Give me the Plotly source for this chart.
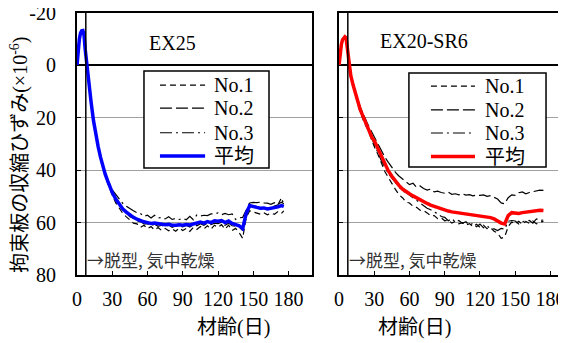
import plotly.graph_objects as go

# ---------------- data ----------------
DAYS = [0, 1, 2, 3, 4, 5, 6, 7, 8, 9, 10,
        12, 14, 16, 18, 20, 22, 24, 26, 28,
        30, 33, 36, 39, 42, 45, 48, 51, 54, 57,
        60, 63, 66, 69, 72, 75, 78, 81, 84, 87,
        90, 93, 96, 99, 102, 105, 108, 111, 114, 117,
        120, 123, 126, 129, 132, 135, 138, 141, 144, 147,
        150, 153, 156, 159, 162, 165, 168, 171, 174, 176]

DEMOLD_DAY = 7.5

# EX25
EX25_NO1 = [0, -6.5, -10.5, -12.8, -13.6, -13.5, -11.5, -5.5, -1, 3.5, 7.5,
            14.5, 21.5, 27, 31.5, 35.5, 39, 42, 44.8, 47.5,
            49.5, 52.5, 54.5, 56.5, 57.8, 59, 60.2, 60.5, 61.8, 61,
            62.3, 61.5, 62.8, 61.9, 63, 62.2, 63.1, 62.4, 63.3, 62.1,
            63, 62.2, 63.4, 61.8, 62.6, 61.5, 62.4, 61.2, 62.5, 61,
            61.8, 60.8, 62.5, 61, 63, 62.2, 63.8, 66, 58, 55.5,
            56, 56.3, 56.8, 56.2, 57, 56.4, 56.8, 55.8, 56.5, 55.5]
EX25_NO2 = [0, -5.8, -9.8, -12, -13, -13.2, -11.3, -6, -1.8, 2.8, 6.8,
            13.8, 20.8, 26.3, 30.8, 34.8, 38.3, 41.3, 43.8, 46.3,
            48.5, 51.3, 53.5, 55.2, 56.4, 57.8, 58.3, 59.4, 59.6, 60.5,
            60.5, 61.2, 60.6, 61.4, 61, 61.6, 60.9, 61.8, 61.3, 61.5,
            61.6, 61, 61.7, 60.8, 61.2, 60.4, 61, 60.3, 60.8, 60.2,
            60.4, 59.8, 61, 60.2, 61.2, 61.4, 61.6, 63, 56, 52.5,
            52.3, 52.4, 52.2, 52.5, 52.6, 53, 52.4, 53, 52.2, 52.8]
EX25_NO3 = [0, -5.7, -9.7, -12.1, -13, -13.2, -11.7, -6.5, -1.7, 2.7, 6.7,
            13.7, 20.7, 26.2, 30.7, 34.7, 38.2, 41.2, 43.4, 45.7,
            47.5, 49.2, 51, 52.7, 53.8, 54.8, 55.5, 56.2, 56.5, 57.6,
            57.2, 58.2, 57.2, 58.2, 58.1, 58.6, 57.8, 58.8, 58.4, 58.8,
            58.4, 58.9, 57.6, 58.9, 57.1, 57.5, 57.2, 57.3, 56.7, 56.7,
            56.3, 57, 56.5, 57, 56.7, 58.8, 58.2, 58, 55.5, 52.5,
            53.7, 53.9, 54.5, 54.5, 54.8, 54.4, 53.7, 53.2, 50.5, 53.1]
EX25_AVG = [0, -6, -10, -12.3, -13.2, -13.3, -11.5, -6, -1.5, 3, 7,
            14, 21, 26.5, 31, 35, 38.5, 41.5, 44, 46.5,
            48.5, 51, 53, 54.8, 56, 57.2, 58, 58.7, 59.3, 59.7,
            60, 60.3, 60.2, 60.5, 60.7, 60.8, 60.6, 61, 61, 60.8,
            61, 60.7, 60.9, 60.5, 60.3, 59.8, 60.2, 59.6, 60, 59.3,
            59.5, 59.2, 60, 59.4, 60.3, 60.8, 61.2, 62.3, 56.5, 53.5,
            54, 54.2, 54.5, 54.4, 54.8, 54.6, 54.3, 54, 53.5, 53.8]

# EX20-SR6
SR6_NO1 = [0, -4.8, -7.8, -9.6, -10.5, -10.8, -10.6, -7.5, -2, 1.5, 4,
           8, 11.7, 14.7, 17.7, 20, 22.5, 24, 26.5, 29,
           31, 33.8, 37.3, 40.5, 42.8, 45.2, 47.3, 49.3, 50.5, 52.2,
           52.5, 53.8, 54.2, 55.3, 55.4, 56.3, 57.4, 57.3, 58.5, 58.2,
           59.3, 59, 60.2, 59.5, 60.5, 60, 61, 60.4, 61.5, 60.6,
           61.8, 61, 62.3, 62, 63.3, 64, 66, 65.5, 61.5, 59.8,
           60.5, 59.5, 60.7, 59.6, 60.3, 59.4, 60.5, 59.8, 59.5, None]
SR6_NO2 = [0, -5.2, -8.3, -10, -10.8, -11, -10.4, -6.5, -1, 1.5, 3.5,
           7, 10.3, 13.2, 15.8, 18, 20, 22, 23.8, 25.6,
           27.3, 30, 32.6, 35, 37, 39, 40.8, 42.2, 43.4, 44.5,
           45.5, 45, 46.5, 46, 47, 47.6, 47.2, 48.3, 48, 48.5,
           48.8, 48.4, 49.2, 49, 49.4, 49, 49.5, 49.3, 49.8, 49.5,
           49.6, 49.4, 50, 49.7, 50.2, 51, 52.5, 52.8, 50.5, 49.4,
           49.6, 48.6, 48.3, 49, 48.5, 48.2, 47.8, 47.6, 47.7, None]
SR6_NO3 = [0, -5, -7.9, -9.8, -10.5, -10.9, -10.5, -7, -1.5, 1.5, 3.9,
           7.5, 11, 14.1, 17, 19, 21.5, 23.6, 25.8, 28,
           30.2, 33, 36.3, 38.8, 41.3, 43, 44.8, 46.2, 48, 48.5,
           49.5, 50.7, 51.5, 52.6, 53.7, 54.5, 55.1, 56, 56.5, 57.7,
           58, 59.3, 58.5, 59.8, 59.2, 60.3, 59.7, 61, 60.2, 61.6,
           60.6, 62, 61.2, 62.5, 62.4, 63, 62.2, 62.5, 59.5, 59.2,
           59.4, 60.5, 59.6, 59.5, 59.2, 60.2, 58.6, 59.2, 59, None]
SR6_AVG = [0, -5, -8, -9.8, -10.6, -10.9, -10.5, -7, -1.5, 1.5, 3.8,
           7.5, 11, 14, 16.8, 19, 21.2, 23.3, 25.3, 27.5,
           28.7, 31.8, 34.8, 37.8, 40.3, 42.3, 44.2, 45.8, 47.2, 48.3,
           49, 49.8, 50.6, 51.3, 52, 52.7, 53.3, 53.8, 54.3, 54.8,
           55.2, 55.6, 55.9, 56.1, 56.3, 56.4, 56.7, 56.9, 57, 57.2,
           57.3, 57.5, 57.8, 58.1, 58.6, 59.3, 60.2, 60.5, 57.3, 56.2,
           56.3, 56.5, 56.2, 56, 55.8, 55.9, 55.6, 55.3, 55.4, None]

SERIES_NAMES = ["No.1", "No.2", "No.3", "平均"]
PANEL_TITLES = ["EX25", "EX20-SR6"]
X_TICKS = [0, 30, 60, 90, 120, 150, 180]
Y_TICKS = [-20, 0, 20, 40, 60, 80]
Y_TICK_LABELS = ["-20", "0", "20", "40", "60", "80"]
X_TITLE = "材齢(日)"
Y_TITLE = "拘束板の収縮ひずみ(×10<sup>-6</sup>)"
NOTE = "→脱型, 気中乾燥"

# ---------------- styling ----------------
SERIF = "Liberation Serif, Noto Sans CJK JP, serif"
DASHES = ["6px,4px", "12px,4px", "12px,4px,2px,4px"]
AVG_COLORS = ["#0000ff", "#ff0000"]
LINE_W = [1.2, 1.2, 1.2, 3.5]

fig = go.Figure()

panels = [
    ([EX25_NO1, EX25_NO2, EX25_NO3], EX25_AVG, "x", "y"),
    ([SR6_NO1, SR6_NO2, SR6_NO3], SR6_AVG, "x2", "y2"),
]
for pi, (singles, avg, xa, ya) in enumerate(panels):
    for si, vals in enumerate(singles):
        fig.add_trace(go.Scatter(
            x=DAYS, y=vals, mode="lines", name=SERIES_NAMES[si],
            line=dict(color="black", width=LINE_W[si], dash=DASHES[si]),
            xaxis=xa, yaxis=ya, showlegend=False))
    fig.add_trace(go.Scatter(
        x=DAYS, y=avg, mode="lines", name=SERIES_NAMES[3],
        line=dict(color=AVG_COLORS[pi], width=LINE_W[3]),
        xaxis=xa, yaxis=ya, showlegend=False))

axis_common = dict(
    ticks="inside", ticklen=4, tickwidth=1, tickcolor="black",
    showline=True, linecolor="black", linewidth=2,
    tickfont=dict(family=SERIF, size=20, color="black"),
    automargin=False, ticklabeloverflow="allow",
)

# The page body adds an 8px offset; the figure is sized to fill the rest.
fig.update_layout(
    template="none",
    width=558, height=335,
    margin=dict(l=69, r=0, t=5, b=68, pad=0),
    paper_bgcolor="white", plot_bgcolor="white",
    showlegend=False,
    xaxis=dict(domain=[0, 0.4806], range=[0, 200], tickvals=X_TICKS,
               mirror=True, showgrid=False, zeroline=False, anchor="y",
               ticklabelstandoff=5, **axis_common),
    xaxis2=dict(domain=[0.5358, 1], range=[0, 193.2], tickvals=X_TICKS,
                mirror=True, showgrid=False, zeroline=False, anchor="y2",
                ticklabelstandoff=5, **axis_common),
    yaxis=dict(range=[80, -20], tickvals=Y_TICKS, ticktext=Y_TICK_LABELS,
               mirror=True, anchor="x",
               showgrid=True, gridcolor="#a0a0a0", gridwidth=1,
               zeroline=True, zerolinecolor="black", zerolinewidth=1.5,
               ticklabelstandoff=15, **axis_common),
    yaxis2=dict(range=[80, -20], tickvals=Y_TICKS, mirror=False, anchor="x2",
                showticklabels=False,
                showgrid=True, gridcolor="#a0a0a0", gridwidth=1,
                zeroline=True, zerolinecolor="black", zerolinewidth=1.5,
                **axis_common),
)

# demolding lines
for xa, ya in [("x", "y"), ("x2", "y2")]:
    fig.add_shape(type="line", xref=xa, yref=ya + " domain",
                  x0=DEMOLD_DAY, x1=DEMOLD_DAY, y0=0, y1=1,
                  line=dict(color="black", width=1.5))

# panel titles
fig.add_annotation(text=PANEL_TITLES[0], xref="x domain", yref="y domain",
                   x=0.297, y=0.935, showarrow=False,
                   font=dict(family=SERIF, size=20, color="black"))
fig.add_annotation(text=PANEL_TITLES[1], xref="x2 domain", yref="y2 domain",
                   x=0.374, y=0.941, showarrow=False,
                   font=dict(family=SERIF, size=20, color="black"))

# legends (drawn as boxes inside each panel)
legend_layout = [
    ("x", "y", (0.285, 0.817, 0.408, 0.779), 0.353, 0.545, 0.575,
     [0.725, 0.637, 0.543, 0.454]),
    ("x2", "y2", (0.308, 0.912, 0.412, 0.771), 0.405, 0.599, 0.635,
     [0.721, 0.630, 0.542, 0.452]),
]
for pi, (xa, ya, box, lx0, lx1, tx, ys) in enumerate(legend_layout):
    fig.add_shape(type="rect", xref=xa + " domain", yref=ya + " domain",
                  x0=box[0], x1=box[1], y0=box[2], y1=box[3],
                  line=dict(color="black", width=1.5), fillcolor="white",
                  layer="above")
    for si, name in enumerate(SERIES_NAMES):
        color = "black" if si < 3 else AVG_COLORS[pi]
        dash = DASHES[si] if si < 3 else "solid"
        fig.add_shape(type="line", xref=xa + " domain", yref=ya + " domain",
                      x0=lx0, x1=lx1, y0=ys[si], y1=ys[si],
                      line=dict(color=color, width=LINE_W[si], dash=dash),
                      layer="above")
        fig.add_annotation(text=name, xref=xa + " domain", yref=ya + " domain",
                           x=tx, y=ys[si], xanchor="left", yanchor="middle",
                           showarrow=False,
                           font=dict(family=SERIF, size=20, color="black"))

# notes
for xa, ya in [("x", "y"), ("x2", "y2")]:
    fig.add_annotation(text=NOTE, xref=xa + " domain", yref=ya + " domain",
                       x=0.036, y=0.061, xanchor="left", yanchor="middle",
                       showarrow=False,
                       font=dict(family="Noto Sans CJK JP", size=17, color="#333333"))

# axis titles
for cx in [(0 + 0.4806) / 2, (0.5358 + 1.0) / 2]:
    fig.add_annotation(text=X_TITLE, xref="paper", yref="paper",
                       x=cx, y=-0.202, yanchor="middle", showarrow=False,
                       font=dict(family=SERIF, size=20, color="black"))
fig.add_annotation(text=Y_TITLE, xref="paper", yref="paper",
                   x=-0.119, y=0.458, textangle=-90, xanchor="center",
                   yanchor="middle", showarrow=False,
                   font=dict(family=SERIF, size=20, color="black"))

fig.write_html("out.html")
